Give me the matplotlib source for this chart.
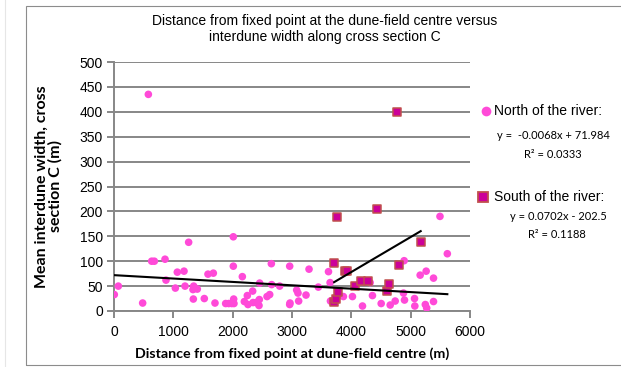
import numpy as np
import matplotlib
matplotlib.use('Agg')
from matplotlib import pyplot as plt
from matplotlib.patches import Rectangle
from matplotlib.lines import Line2D

# North of the river (distance m, interdune width m)
north_x = [5, 73, 483, 579, 635, 680, 860, 876, 1034, 1067, 1180, 1197, 1258, 1331,
           1337, 1343, 1404, 1522, 1584, 1674, 1702, 1882, 1933, 1983, 2011, 2011,
           2017, 2022, 2163, 2197, 2247, 2258, 2337, 2343, 2393, 2444, 2449, 2455,
           2579, 2624, 2652, 2657, 2792, 2961, 2961, 2966, 3079, 3101, 3112, 3236,
           3287, 3444, 3615, 3642, 3648, 3680, 3866, 4019, 4188, 4317, 4356, 4503,
           4655, 4739, 4879, 4890, 4896, 5065, 5070, 5160, 5247, 5261, 5270, 5385,
           5385, 5494, 5618]
north_y = [33, 50, 16, 435, 100, 100, 104, 62, 46, 78, 80, 50, 138, 43,
           24, 50, 44, 25, 74, 76, 16, 15, 15, 15, 149, 90,
           24, 15, 69, 19, 31, 13, 40, 17, 17, 11, 23, 56,
           29, 33, 95, 53, 50, 90, 13, 16, 42, 36, 20, 32,
           84, 48, 79, 57, 20, 19, 29, 29, 10, 57, 31, 15,
           12, 20, 36, 101, 22, 25, 10, 72, 13, 80, 6, 66,
           19, 190, 115]

# South of the river
south_x = [3710, 3715, 3744, 3753, 3783, 3895, 3935, 4064, 4171, 4278, 4427,
           4604, 4637, 4764, 4795, 5169]
south_y = [19, 96, 25, 188, 38, 80, 80, 51, 60, 60, 205,
           40, 54, 400, 92, 138]

# trendline coefficients (slope, intercept) as given on chart
north_fit = (-0.0068, 71.984)
south_fit = (0.0702, -202.5)

fig = plt.figure(figsize=(6.21, 3.67), dpi=100)
W, H = 621, 367
ax = fig.add_axes([114 / W, (H - 311) / H, (470 - 114) / W, (311 - 62) / H])

grey = '#878787'
ax.set_xlim(0, 6000)
ax.set_ylim(0, 500)
ax.set_xticks(range(0, 6001, 1000))
ax.set_yticks(range(0, 501, 50))
ax.yaxis.grid(True, color=grey, linewidth=1.4)
ax.set_axisbelow(True)
for s in ['top', 'right']:
    ax.spines[s].set_visible(False)
for s in ['left', 'bottom']:
    ax.spines[s].set_color(grey)
    ax.spines[s].set_linewidth(1.4)
ax.tick_params(direction='out', length=5, width=1.4, color=grey,
               labelsize=10, pad=3)
ax.tick_params(axis='x', pad=5)
for lab in ax.get_xticklabels() + ax.get_yticklabels():
    lab.set_fontfamily('Liberation Sans')

pink = '#FF4AD8'
ax.scatter(north_x, north_y, s=30, color=pink, edgecolors='none', zorder=3)
ax.scatter(south_x, south_y, s=30, marker='s', color='#CC0099',
           edgecolors='#C0504D', linewidths=1.1, zorder=4)

nx = np.array([min(north_x), max(north_x)])
ax.plot(nx, np.polyval(north_fit, nx), color='black', lw=1.5, zorder=5)
sx = np.array([min(south_x), max(south_x)])
ax.plot(sx, np.polyval(south_fit, sx), color='black', lw=1.5, zorder=5)

ax.set_xlabel('Distance from fixed point at dune-field centre (m)',
              fontfamily='Lato', fontweight='bold', fontsize=10.3, labelpad=6)
ax.set_ylabel('Mean interdune width, cross\nsection C (m)',
              fontfamily='Lato', fontweight='bold', fontsize=11.5,
              linespacing=1.0, labelpad=12)

fig.text(325 / W, 1 - 29 / H,
         'Distance from fixed point at the dune-field centre versus\ninterdune width along cross section C',
         ha='center', va='center', fontfamily='Liberation Sans', fontsize=10,
         linespacing=1.2)

# legend with equations
fig.add_artist(Line2D([486 / W], [1 - 111 / H], marker='o', color=pink,
                      markersize=7, markeredgewidth=0, linestyle='none'))
fig.text(494 / W, 1 - 111 / H, 'North of the river:', ha='left', va='center',
         fontfamily='Liberation Sans', fontsize=10)
fig.text(553 / W, 1 - 136 / H, 'y =  -0.0068x + 71.984', ha='center', va='center',
         fontfamily='Lato', fontsize=8)
fig.text(553 / W, 1 - 155 / H, 'R² = 0.0333', ha='center', va='center',
         fontfamily='Lato', fontsize=8)

fig.add_artist(Line2D([483 / W], [1 - 197 / H], marker='s', color='#CC0099',
                      markeredgecolor='#C0504D', markeredgewidth=1.3,
                      markersize=7, linestyle='none'))
fig.text(494 / W, 1 - 197 / H, 'South of the river:', ha='left', va='center',
         fontfamily='Liberation Sans', fontsize=10)
fig.text(558 / W, 1 - 217 / H, 'y = 0.0702x - 202.5', ha='center', va='center',
         fontfamily='Lato', fontsize=8)
fig.text(557 / W, 1 - 234 / H, 'R² = 0.1188', ha='center', va='center',
         fontfamily='Lato', fontsize=8)

# chart frame
fig.add_artist(Rectangle((26 / W, 2 / H), 1, (H - 8) / H, transform=fig.transFigure,
                         fill=False, edgecolor='#8c8c8c', linewidth=0.8))
fig.add_artist(Line2D([5 / W, 5 / W], [0, 1], color='#e6e6e6', linewidth=0.8))

fig.savefig('out.png', dpi=100)
